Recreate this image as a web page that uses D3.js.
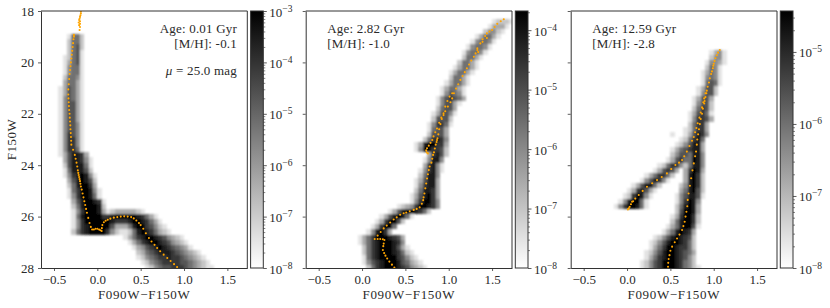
<!DOCTYPE html>
<html>
<head>
<meta charset="utf-8">
<script src="https://cdnjs.cloudflare.com/ajax/libs/d3/7.8.5/d3.min.js"></script>
<style>
  html, body { margin: 0; padding: 0; background: #fff; }
  svg { display: block; }
  text { font-family: "Liberation Serif", serif; fill: #2a2a2a; }
</style>
</head>
<body>
<svg id="chart" width="830" height="308"></svg>
<script>
// Hess diagram rows: [top magnitude, colour of first bin, level per 0.05 mag colour bin (0 white .. 9 black)]
const hessYoung = [
  [18.9,-0.35,"1552"],[19.1,-0.35,"2552"],[19.3,-0.35,"2562"],[19.5,-0.35,"2561"],
  [19.7,-0.40,"12561"],[19.9,-0.40,"13561"],[20.1,-0.40,"14551"],[20.3,-0.40,"14551"],
  [20.5,-0.40,"25541"],[20.7,-0.40,"35531"],[20.9,-0.45,"136531"],[21.1,-0.45,"136531"],
  [21.3,-0.45,"146531"],[21.5,-0.45,"146631"],[21.7,-0.45,"146631"],[21.9,-0.45,"146631"],
  [22.1,-0.45,"146631"],[22.3,-0.45,"146641"],[22.5,-0.45,"146641"],[22.7,-0.45,"147641"],
  [22.9,-0.45,"147741"],[23.1,-0.45,"147741"],[23.3,-0.45,"147751"],[23.5,-0.45,"1368873"],
  [23.7,-0.40,"3688741"],[23.9,-0.40,"2688851"],[24.1,-0.40,"1588862"],[24.3,-0.40,"14789841"],
  [24.5,-0.35,"3689862"],[24.7,-0.35,"2589973"],[24.9,-0.35,"15799841"],[25.1,-0.35,"14799851"],
  [25.3,-0.30,"36899871"],[25.5,-0.30,"25899982"],[25.7,-0.30,"14799983123333321"],
  [25.9,-0.30,"15899997789999987531"],[26.1,-0.30,"147999999877789987531"],
  [26.3,-0.30,"1478999996333589976421"],[26.5,-0.30,"25789999742112589875321"],
  [26.7,0.30,"13578998764321"],[26.9,0.35,"13578998764321"],[27.1,0.40,"13467898765431"],
  [27.3,0.45,"235678887654321"],[27.5,0.45,"1245677877654321"],[27.7,0.50,"1245677776654321"],
  [27.9,0.55,"1245667776543211"]
];
const hessMiddle = [
  [18.3,1.50,"12221"],[18.5,1.45,"13331"],[18.7,1.40,"24421"],[18.9,1.30,"135531"],
  [19.1,1.25,"145541"],[19.3,1.20,"145541"],[19.5,1.15,"145541"],[19.7,1.15,"25531"],
  [19.9,1.10,"25531"],[20.1,1.05,"135531"],[20.3,1.00,"135531"],[20.5,1.00,"25531"],
  [20.7,0.95,"135531"],[20.9,0.90,"135531"],[21.1,0.90,"146541"],[21.3,0.85,"1467653"],
  [21.5,0.85,"146631"],[21.7,0.85,"25663"],[21.9,0.80,"136641"],[22.1,0.80,"26662"],
  [22.3,0.75,"147751"],[22.5,0.75,"15663"],[22.7,0.75,"26663"],[22.9,0.70,"257874"],
  [23.1,0.60,"13899773"],[23.3,0.60,"14997762"],[23.5,0.75,"37862"],[23.7,0.70,"14884"],
  [23.9,0.70,"37841"],[24.1,0.65,"147841"],[24.3,0.65,"25884"],[24.5,0.60,"136883"],
  [24.7,0.60,"147883"],[24.9,0.60,"258873"],[25.1,0.55,"1368973"],[25.3,0.55,"1479974"],
  [25.5,0.40,"1234799874"],[25.7,0.30,"1368998752"],[25.9,0.20,"13689851"],[26.1,0.15,"1379962"],
  [26.3,0.10,"137995"],[26.5,0.05,"148973"],[26.7,-0.05,"13579998763"],[26.9,-0.05,"13578999874"],
  [27.1,0.00,"25789998631"],[27.3,0.00,"257899987521"],[27.5,0.00,"1578999976421"],
  [27.7,0.00,"14678999865321"],[27.9,0.05,"25789998764321"]
];
const hessOld = [
  [19.5,0.95,"1341"],[19.7,0.95,"2441"],[19.9,0.90,"14431"],[20.1,0.90,"2541"],
  [20.3,0.85,"13541"],[20.5,0.85,"14541"],[20.7,0.85,"15651"],[20.9,0.80,"13662"],
  [21.1,0.80,"14662"],[21.3,0.75,"13663"],[21.5,0.75,"14662"],[21.7,0.75,"25762"],
  [21.9,0.70,"136751"],[22.1,0.70,"147763"],[22.3,0.70,"25773"],[22.5,0.65,"125773"],
  [22.7,0.65,"136874"],[22.7,0.50,"1"],[22.9,0.60,"125785"],[23.1,0.55,"1246883"],
  [23.3,0.50,"13567883"],[23.5,0.50,"24665884"],[23.7,0.45,"136755984"],
  [23.9,0.35,"12577425884"],[24.1,0.30,"136763037983"],[24.3,0.20,"13577520038972"],
  [24.5,0.15,"146874100038972"],[24.7,0.05,"13688520000248972"],[24.9,0.00,"137863100000358962"],
  [25.1,-0.05,"1279841000001468861"],[25.3,-0.10,"1489951000000147984"],
  [25.5,-0.15,"14799851000000258983"],[25.7,0.55,"269983"],[25.9,0.50,"1379972"],
  [26.1,0.50,"2589972"],[26.3,0.45,"13589961"],[26.5,0.40,"13589873"],[26.7,0.30,"1246898762"],
  [26.9,0.25,"12468998752"],[27.1,0.25,"13579987752"],[27.3,0.20,"124689987653"],
  [27.5,0.20,"135789987642"],[27.7,0.15,"1246799987542"],[27.9,0.15,"12467999875421"]
];

// Isochrone points: [colour, magnitude]
const isoYoung = [
  [-0.19,18.03],[-0.19,18.1],[-0.195,18.17],[-0.2,18.23],[-0.205,18.3],[-0.21,18.35],[-0.2,18.4],[-0.215,18.45],
  [-0.2,18.5],[-0.21,18.55],[-0.2,18.62],[-0.205,18.74],[-0.27,18.93],[-0.27,19],[-0.275,19.1],[-0.28,19.25],
  [-0.285,19.4],[-0.29,19.55],[-0.295,19.7],[-0.3,19.85],[-0.305,20],[-0.31,20.15],[-0.315,20.3],[-0.32,20.45],
  [-0.325,20.65],[-0.33,20.85],[-0.335,21.05],[-0.335,21.25],[-0.333,21.4],[-0.33,21.55],[-0.328,21.7],[-0.325,21.85],
  [-0.32,22],[-0.318,22.15],[-0.315,22.3],[-0.312,22.45],[-0.31,22.6],[-0.307,22.75],[-0.304,22.9],[-0.302,23.05],
  [-0.3,23.2],[-0.28,23.4],[-0.26,23.6],[-0.25,23.75],[-0.24,23.9],[-0.232,24.05],[-0.225,24.2],[-0.22,24.3],
  [-0.215,24.38],[-0.21,24.46],[-0.205,24.54],[-0.2,24.62],[-0.195,24.72],[-0.19,24.83],[-0.18,24.95],[-0.17,25.1],
  [-0.16,25.25],[-0.15,25.4],[-0.14,25.55],[-0.13,25.7],[-0.12,25.85],[-0.105,26.05],[-0.09,26.25],[-0.075,26.4],
  [-0.06,26.5],[-0.04,26.5],[-0.02,26.47],[0,26.47],[0.02,26.5],[0.035,26.53],[0.05,26.56],[0.052,26.45],
  [0.058,26.33],[0.075,26.22],[0.096,26.16],[0.12,26.12],[0.15,26.08],[0.19,26.04],[0.23,26.02],[0.27,26],
  [0.31,25.99],[0.35,26],[0.39,26.02],[0.42,26.07],[0.45,26.15],[0.48,26.25],[0.5,26.33],[0.53,26.47],
  [0.56,26.65],[0.595,26.83],[0.625,26.97],[0.66,27.1],[0.69,27.22],[0.725,27.35],[0.765,27.48],[0.807,27.61],
  [0.845,27.73],[0.885,27.85],[0.92,27.96]
];
const isoMiddle = [
  [1.635,18.32],[1.6,18.4],[1.56,18.5],[1.53,18.62],[1.5,18.74],[1.47,18.8],[1.44,18.87],[1.42,18.97],
  [1.39,19.1],[1.365,19.26],[1.44,19.05],[1.39,19.2],[1.33,19.45],[1.34,19.6],[1.33,19.52],[1.31,19.65],
  [1.29,19.78],[1.26,19.93],[1.235,20.08],[1.21,20.23],[1.185,20.38],[1.16,20.53],[1.135,20.68],[1.11,20.85],
  [1.085,21.02],[1.06,21.2],[1.04,21.2],[1.01,21.33],[0.985,21.5],[0.96,21.72],[0.94,21.98],[0.915,22.15],
  [0.89,22.35],[0.865,22.57],[0.845,22.72],[0.825,22.88],[0.81,23.02],[0.79,23.13],[0.77,23.24],[0.75,23.34],
  [0.74,23.42],[0.745,23.5],[0.76,23.54],[1.04,21.4],[1.02,21.55],[0.99,21.72],[0.96,21.9],[0.94,22.05],
  [0.92,22.2],[0.905,22.4],[0.89,22.6],[0.88,22.8],[0.87,22.95],[0.865,23.02],[0.86,23.1],[0.85,23.2],
  [0.84,23.35],[0.83,23.5],[0.82,23.6],[0.81,23.75],[0.8,23.9],[0.78,24.05],[0.77,24.19],[0.76,24.35],
  [0.75,24.52],[0.74,24.71],[0.73,24.9],[0.72,25.1],[0.71,25.25],[0.705,25.36],[0.69,25.5],[0.665,25.64],
  [0.63,25.7],[0.596,25.74],[0.55,25.79],[0.51,25.84],[0.48,25.87],[0.44,25.93],[0.4,26.03],[0.365,26.11],
  [0.325,26.23],[0.285,26.35],[0.25,26.46],[0.215,26.6],[0.18,26.74],[0.146,26.87],[0.18,26.87],[0.21,26.87],
  [0.24,26.88],[0.258,26.91],[0.25,27.05],[0.245,27.15],[0.24,27.3],[0.255,27.42],[0.27,27.52],[0.29,27.63],
  [0.315,27.75],[0.345,27.87],[0.373,27.98]
];
const isoOld = [
  [1.07,19.52],[1.05,19.62],[1.035,19.72],[1.02,19.84],[1.01,19.95],[1,20.05],[0.995,20.13],[0.99,20.23],
  [0.98,20.35],[0.97,20.45],[0.955,20.62],[0.945,20.78],[0.93,20.95],[0.92,21.1],[0.915,21.2],[0.905,21.35],
  [0.895,21.5],[0.89,21.6],[0.875,21.8],[0.865,22],[0.85,22.2],[0.84,22.4],[0.83,22.6],[0.82,22.8],
  [0.81,23],[0.805,23.2],[0.796,23.47],[0.785,23.65],[0.77,23.93],[0.755,24.2],[0.74,24.51],[0.725,24.8],
  [0.71,25.1],[0.7,25.35],[0.695,25.6],[0.685,25.81],[0.675,26],[0.665,26.2],[0.65,26.37],[0.635,26.52],
  [0.605,26.7],[0.577,26.85],[0.55,27],[0.52,27.17],[0.5,27.33],[0.49,27.5],[0.48,27.65],[0.475,27.8],
  [0.473,27.95],[0.905,21.2],[0.89,21.4],[0.88,21.55],[0.865,21.75],[0.85,21.95],[0.835,22.15],[0.815,22.37],
  [0.8,22.55],[0.785,22.72],[0.77,22.9],[0.75,23.05],[0.72,23.25],[0.69,23.47],[0.66,23.65],[0.635,23.8],
  [0.6,23.9],[0.558,23.99],[0.51,24.15],[0.46,24.32],[0.4,24.46],[0.346,24.58],[0.29,24.7],[0.23,24.84],
  [0.18,25],[0.135,25.16],[0.095,25.3],[0.07,25.4],[0.058,25.42],[0.045,25.52],[0.03,25.62],[0.02,25.68],
  [0.01,25.72]
];

const colourTicks = [-0.5, 0, 0.5, 1, 1.5];
const magTicks = [18, 20, 22, 24, 26, 28];
const ageLabels = ["Age: 0.01 Gyr", "Age: 2.82 Gyr", "Age: 12.59 Gyr"];
const metalLabels = ["[M/H]: -0.1", "[M/H]: -1.0", "[M/H]: -2.8"];
const densityMax = [1e-3, 2.1e-4, 3.7e-5];
const densityMin = 1e-8;
const hessRows = [hessYoung, hessMiddle, hessOld];
const isochrones = [isoYoung, isoMiddle, isoOld];

const marginTop = 11;
const marginBottom = 268;
const panelLeft = [41, 305.7, 570.7];
const panelWidth = 206.3;
const barGap = 3.3;
const barWidth = 12.7;
const colourStep = 0.05;
const magStep = 0.2;
const axisColour = "#333";

const svg = d3.select("#chart");
const defs = svg.append("defs");
const shade = d3.interpolateRgb("#ffffff", "#000000");

// Soften the 0.05 x 0.2 mag cells a little, the reference is a scaled-down raster
defs.append("filter").attr("id", "soften")
  .attr("filterUnits", "userSpaceOnUse")
  .attr("x", 0).attr("y", 0).attr("width", 830).attr("height", 308)
  .append("feGaussianBlur").attr("stdDeviation", "1.3 1");

const yScale = d3.scaleLinear().domain([18, 28]).range([marginTop, marginBottom]);

function styleAxis(g) {
  g.select(".domain").attr("stroke", axisColour).attr("stroke-width", 1);
  g.selectAll(".tick line").attr("stroke", axisColour).attr("stroke-width", 0.8);
  g.selectAll(".tick text")
    .attr("font-size", 13)
    .attr("font-family", "Liberation Serif, serif")
    .attr("fill", "#2a2a2a");
}

hessRows.forEach((rows, p) => {
  const left = panelLeft[p];
  const right = left + panelWidth;
  const xScale = d3.scaleLinear().domain([-0.65, 1.73]).range([left, right]);
  const colour = d3.scaleSequentialLog(shade).domain([densityMin, densityMax[p]]);
  const levelToValue = level => densityMin * Math.pow(densityMax[p] / densityMin, level / 9);

  const clipId = "panel-clip-" + p;
  defs.append("clipPath").attr("id", clipId).append("rect")
    .attr("x", left).attr("y", marginTop)
    .attr("width", panelWidth).attr("height", marginBottom - marginTop);

  // Binned density cells, skipping the empty ones
  const cells = [];
  rows.forEach(([mag, start, levels]) => {
    Array.from(levels).forEach((ch, i) => {
      if (ch !== "0") {
        cells.push({ c: start + i * colourStep, mag: mag, value: levelToValue(+ch) });
      }
    });
  });

  const plot = svg.append("g").attr("clip-path", `url(#${clipId})`);
  plot.append("g").attr("filter", "url(#soften)")
    .selectAll("rect").data(cells).join("rect")
    .attr("x", d => xScale(d.c))
    .attr("y", d => yScale(d.mag))
    .attr("width", d => xScale(d.c + colourStep) - xScale(d.c))
    .attr("height", d => yScale(d.mag + magStep) - yScale(d.mag))
    .attr("shape-rendering", "crispEdges")
    .attr("fill", d => colour(d.value));

  plot.append("g").selectAll("circle").data(isochrones[p]).join("circle")
    .attr("cx", d => xScale(d[0]))
    .attr("cy", d => yScale(d[1]))
    .attr("r", 1.05)
    .attr("fill", "orange");

  // Axes
  const xAxis = svg.append("g")
    .attr("transform", `translate(0,${marginBottom})`)
    .call(d3.axisBottom(xScale).tickValues(colourTicks).tickFormat(d3.format(".1f")).tickSize(3).tickSizeOuter(0).tickPadding(4));
  styleAxis(xAxis);
  const yAxis = svg.append("g")
    .attr("transform", `translate(${left},0)`)
    .call(d3.axisLeft(yScale).tickValues(magTicks).tickFormat(p === 0 ? d3.format("d") : "").tickSize(3).tickSizeOuter(0).tickPadding(4));
  styleAxis(yAxis);
  svg.append("line").attr("x1", left).attr("x2", right).attr("y1", marginTop).attr("y2", marginTop).attr("stroke", axisColour);
  svg.append("line").attr("x1", right).attr("x2", right).attr("y1", marginTop).attr("y2", marginBottom).attr("stroke", axisColour);

  svg.append("text")
    .attr("x", (left + right) / 2)
    .attr("y", 299)
    .attr("text-anchor", "middle")
    .attr("font-size", 13)
    .attr("letter-spacing", 0.65)
    .text("F090W\u2212F150W");

  // Age and metallicity labels
  const labelX = p === 0 ? 237 : left + 21.5;
  const anchor = p === 0 ? "end" : "start";
  svg.append("text").attr("x", labelX).attr("y", 33).attr("text-anchor", anchor)
    .attr("font-size", 13).attr("letter-spacing", 0.2).text(ageLabels[p]);
  svg.append("text").attr("x", labelX).attr("y", 48).attr("text-anchor", anchor)
    .attr("font-size", 13).attr("letter-spacing", 0.2).text(metalLabels[p]);

  // Colour bar
  const barLeft = right + barGap;
  const barScale = d3.scaleLog().domain([densityMin, densityMax[p]]).range([marginBottom, marginTop]);
  const gradId = "bar-grad-" + p;
  const grad = defs.append("linearGradient").attr("id", gradId)
    .attr("x1", 0).attr("x2", 0).attr("y1", 1).attr("y2", 0);
  d3.range(0, 1.0001, 0.1).forEach(t => {
    grad.append("stop").attr("offset", t).attr("stop-color", shade(t));
  });
  svg.append("rect")
    .attr("x", barLeft).attr("y", marginTop)
    .attr("width", barWidth).attr("height", marginBottom - marginTop)
    .attr("fill", `url(#${gradId})`)
    .attr("stroke", axisColour);

  const decades = d3.range(-8, 0).map(e => Math.pow(10, e))
    .filter(v => v >= densityMin * 0.999 && v <= densityMax[p] * 1.001);
  const minors = [];
  decades.forEach(v => d3.range(2, 10).forEach(m => {
    if (v * m <= densityMax[p]) minors.push(v * m);
  }));

  const barX = barLeft + barWidth;
  const minorAxis = svg.append("g").attr("transform", `translate(${barX},0)`)
    .call(d3.axisRight(barScale).tickValues(minors).tickFormat("").tickSize(2).tickSizeOuter(0));
  minorAxis.select(".domain").remove();
  minorAxis.selectAll(".tick line").attr("stroke", axisColour).attr("stroke-width", 0.6);

  const majorAxis = svg.append("g").attr("transform", `translate(${barX},0)`)
    .call(d3.axisRight(barScale).tickValues(decades).tickFormat("").tickSize(3.5).tickSizeOuter(0));
  majorAxis.select(".domain").remove();
  majorAxis.selectAll(".tick line").attr("stroke", axisColour).attr("stroke-width", 0.8);
  const major = majorAxis.selectAll(".tick").append("text")
    .attr("x", 6).attr("dy", 0).attr("y", 5)
    .attr("text-anchor", "start")
    .attr("font-size", 13)
    .attr("font-family", "Liberation Serif, serif")
    .attr("fill", "#2a2a2a");
  major.append("tspan").text("10");
  major.append("tspan")
    .attr("dy", -5).attr("font-size", 9.5)
    .text(d => "\u2212" + Math.round(-Math.log10(d)));
});

// Shared labels
svg.append("text")
  .attr("transform", `translate(16,${(marginTop + marginBottom) / 2}) rotate(-90)`)
  .attr("text-anchor", "middle")
  .attr("font-size", 13)
  .attr("letter-spacing", 0.5)
  .text("F150W");

const mu = svg.append("text")
  .attr("x", 237).attr("y", 75)
  .attr("text-anchor", "end")
  .attr("font-size", 13)
  .attr("letter-spacing", 0.2);
mu.append("tspan").attr("font-style", "italic").text("\u03bc");
mu.append("tspan").text(" = 25.0 mag");
</script>
</body>
</html>
